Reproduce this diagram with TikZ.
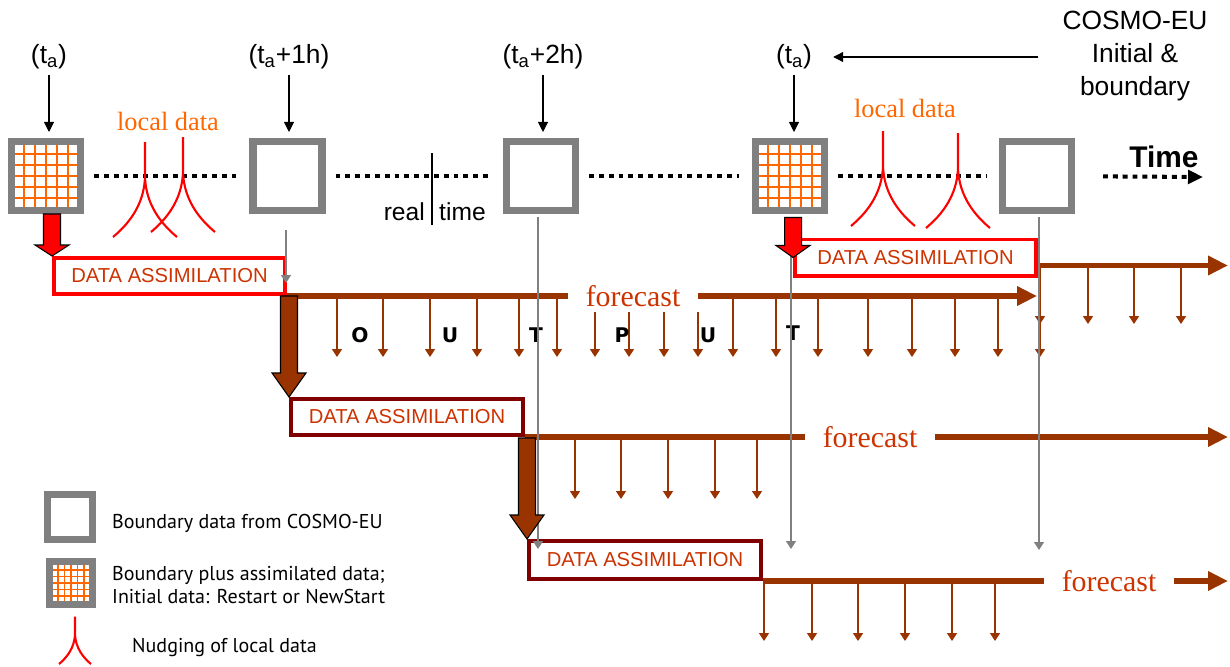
\documentclass[tikz,border=0pt]{standalone}
\usepackage{fontspec}
\setmainfont{Liberation Sans}
\newfontfamily\timesfont{Liberation Serif}
\newfontfamily\legendfont{PT Sans}
\newfontfamily\outfont{DejaVu Sans}
\usetikzlibrary{arrows.meta,positioning}
\definecolor{fcbrown}{HTML}{993300}
\definecolor{datext}{HTML}{CC3300}
\definecolor{dared}{HTML}{800000}
\definecolor{gridor}{HTML}{FF6600}
\definecolor{boxgray}{HTML}{808080}

\begin{document}
\begin{tikzpicture}[x=0.02cm, y=-0.02cm,
        bnd/.style={draw=boxgray, line width=4pt, fill=white, minimum size=1.38cm, inner sep=0pt},
        gridline/.style={gridor, line width=0.9pt},
        lbl/.style={font=\fontsize{15}{18.8}\selectfont},
        tarr/.style={line width=0.6pt, -{Triangle[length=0.2cm,width=0.2cm]}},
        dots/.style={line width=2.3pt, dash pattern=on 2.8pt off 2.8pt},
        nudge/.style={red, line width=1.2pt},
        ldat/.style={text=gridor, font=\timesfont\fontsize{15}{18}\selectfont},
        da/.style={draw=red, line width=2pt, fill=white, minimum width=4.63cm, minimum height=0.73cm,
            inner sep=0pt, text=datext, font=\fontsize{11.5}{13}\selectfont},
        fc/.style={text=datext, inner xsep=0.35cm, inner ysep=0pt, font=\timesfont\fontsize{17}{20}\selectfont},
        fline/.style={fcbrown, line width=3.4pt},
        fctip/.style={-{Triangle[length=0.4cm,width=0.37cm]}},
        oarr/.style={fcbrown, line width=0.9pt, -{Triangle[length=0.16cm,width=0.2cm]}},
        garr/.style={boxgray, line width=0.8pt, -{Triangle[length=0.16cm,width=0.2cm]}},
        blockarr/.style={draw=black, line width=0.6pt},
        outl/.style={font=\outfont\bfseries\fontsize{11.5}{13}\selectfont},
        leg/.style={font=\legendfont\fontsize{11.4}{13}\selectfont},
        hatch/.pic={\foreach \d in {-22,-11,0,11,22} \draw[gridline] (\d,-31) -- (\d,31) (-31,\d) -- (31,\d);},
        cusp/.pic={\draw[nudge] (-32,0) .. controls (-20,-10) and (0,-30) .. (0,-62) -- (0,-95)
            (32,0) .. controls (20,-10) and (0,-30) .. (0,-62);}
    ]
        \useasboundingbox (0,0) rectangle (1230,666);

        % Time labels
        \node[lbl] (l1) at (49,57) {(t\textsubscript{a})};
        \node[lbl] (l2) at (289,57) {(t\textsubscript{a}+1h)};
        \node[lbl] (l3) at (543,57) {(t\textsubscript{a}+2h)};
        \node[lbl] (l4) at (794,57) {(t\textsubscript{a})};
        \node[lbl, align=center] (cosmo) at (1135,56) {COSMO-EU\\Initial \&\\boundary};

        % Boundary boxes
        \node[bnd] (b1) at (46,176) {};
        \node[bnd] (b2) at (287.5,176) {};
        \node[bnd] (b3) at (541,176) {};
        \node[bnd] (b4) at (790,176) {};
        \node[bnd] (b5) at (1037,176) {};
        \pic at (b1) {hatch};
        \pic at (b4) {hatch};

        % Arrows from the labels
        \foreach \a/\b in {l1/b1, l2/b2, l3/b3, l4/b4}
            \draw[tarr, shorten >=0.12cm] (\a.south) -- (\a.south |- \b.north);
        \draw[tarr, shorten <=0.36cm, shorten >=0.3cm] (cosmo.west |- l4) -- (l4);

        % Dotted time line
        \foreach \a/\b in {b1/b2, b2/b3, b3/b4, b4/b5}
            \draw[dots, shorten <=0.2cm, shorten >=0.26cm] (\a) -- (\b);
        \coordinate (tend) at (1203,177);
        \draw[dots, -{Triangle[length=0.3cm,width=0.27cm]}, shorten <=0.56cm] (b5) -- (tend);
        \node[font=\bfseries\fontsize{17}{20}\selectfont] (time) at (1164,157) {Time};

        % Real time
        \draw[line width=0.8pt] (432,153) -- (432,225);
        \node[anchor=east, font=\fontsize{14}{16}\selectfont] (real) at (431,212) {real};
        \node[anchor=west, font=\fontsize{14}{16}\selectfont] (rtime) at (433,212) {time};

        % Local data
        \node[ldat] (ld1) at (168,121) {local data};
        \node[ldat] (ld2) at (905,108) {local data};
        \pic at (145,237) {cusp};
        \pic at (183,232) {cusp};
        \pic at (883,226) {cusp};
        \pic at (958,228) {cusp};

        % Data assimilation
        \node[da] (da1) at (169.5,276) {DATA ASSIMILATION};
        \node[da, minimum width=4.83cm] (da4) at (915.5,257.5) {DATA ASSIMILATION};
        \node[da, draw=dared, minimum width=4.65cm] (da2) at (407,417) {DATA ASSIMILATION};
        \node[da, draw=dared, minimum width=4.65cm, minimum height=0.77cm] (da3) at (645,560) {DATA ASSIMILATION};

        % Forecasts
        \coordinate (rim) at (1228,0);
        \node[fc, right=5.62cm of da1.south east] (fc1) {forecast};
        \draw[fline] (da1.south east) -- (fc1);
        \draw[fline, fctip] (fc1) -- (fc1 -| b5);
        \draw[fline, fctip] ([yshift=-0.16cm]da4.east) -- ([yshift=-0.16cm]da4.east -| rim);
        \node[fc, right=5.6cm of da2.south east] (fc2) {forecast};
        \draw[fline] (da2.south east) -- (fc2);
        \draw[fline, fctip] (fc2) -- (fc2 -| rim);
        \node[fc, right=5.62cm of da3.south east] (fc3) {forecast};
        \draw[fline] (da3.south east) -- (fc3);
        \draw[fline, fctip] (fc3) -- (fc3 -| rim);

        % Output
        \foreach \x in {337,383,430,477,519,557,733,776,818,868,912,955,998,1040}
            \draw[oarr] (\x,298) -- (\x,357);
        \foreach \x in {595,629,664,698}
            \draw[oarr] (\x,312) -- (\x,357);
        \foreach \x in {1040,1088,1134,1181}
            \draw[oarr] (\x,268) -- (\x,324);
        \foreach \x in {575,621,668,715,757}
            \draw[oarr] (\x,439) -- (\x,499);
        \foreach \x in {764,812,858,905,952,995}
            \draw[oarr] (\x,582) -- (\x,641);
        \node[outl] (o1) at (360,335) {O};
        \node[outl] (o2) at (450,335) {U};
        \node[outl] (o3) at (536,335) {T};
        \node[outl] (o4) at (622,335) {P};
        \node[outl] (o5) at (708,335) {U};
        \node[outl] (o6) at (793,333) {T};

        % Boundary data passed down
        \coordinate (g2e) at (286,283);
        \coordinate (g3e) at (538,549);
        \coordinate (g4e) at (791,549);
        \coordinate (g5e) at (1039,550);
        \draw[garr, shorten <=0.32cm] (b2.south -| g2e) -- (g2e);
        \foreach \b/\e in {b3/g3e, b4/g4e, b5/g5e}
            \draw[garr, shorten <=0.06cm] (\b.south -| \e) -- (\e);

        % Block arrows
        \foreach \t/\len/\head/\col in {da1.north west/42/11/red, da4.west/40/12/red,
                da2.north west/101/24/fcbrown, da3.north west/101/24/fcbrown}
            \filldraw[blockarr, fill=\col, shift={(\t)}] (-8.5,-\len) -- (8.5,-\len) -- (8.5,-\head)
                -- (17,-\head) -- (0,0) -- (-17,-\head) -- (-8.5,-\head) -- cycle;

        % Legend
        \node[bnd, minimum size=0.9cm] (lb1) at (70,517) {};
        \node[bnd, minimum size=0.86cm] (lb2) at (71,583) {};
        \pic[scale=0.58] at (lb2) {hatch};
        \pic[scale=0.5] at (75,664) {cusp};
        \node[leg, anchor=west] (lt1) at (106,523) {Boundary data from COSMO-EU};
        \node[leg, anchor=west, align=left] (lt2) at (106,585) {Boundary plus assimilated data;\\Initial data: Restart or NewStart};
        \node[leg, anchor=west] (lt3) at (126,647) {Nudging of local data};

    \end{tikzpicture}
\end{document}
